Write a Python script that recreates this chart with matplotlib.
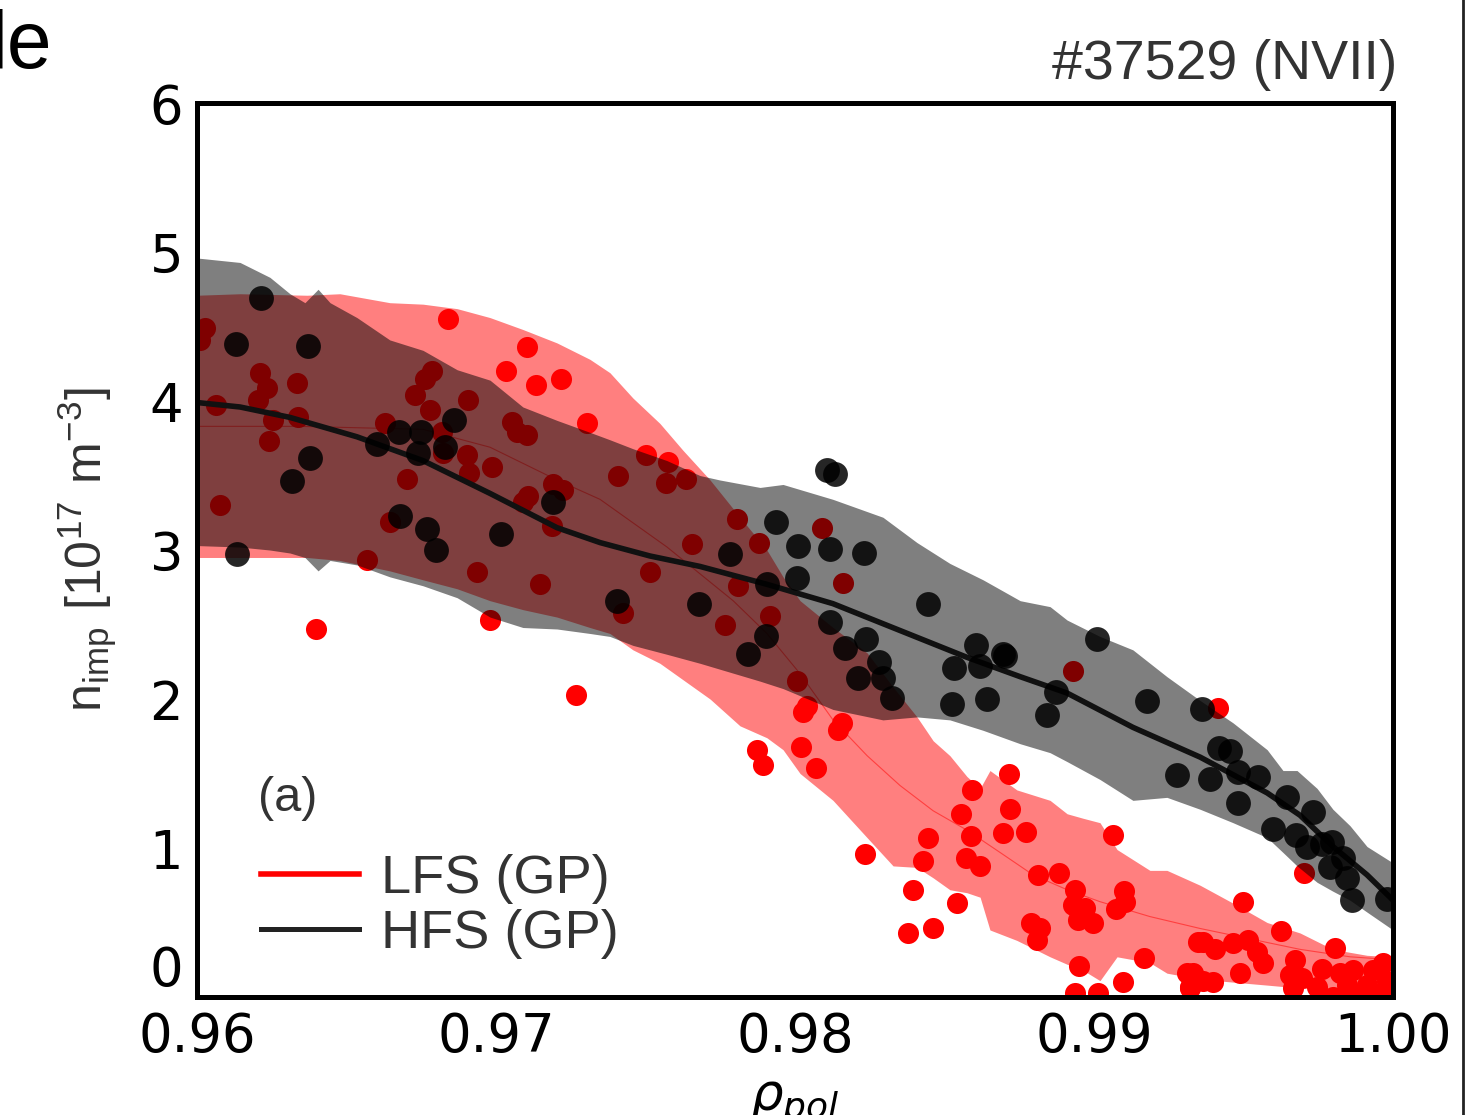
import matplotlib
matplotlib.use("Agg")
import matplotlib.pyplot as plt
from matplotlib.lines import Line2D

# ---- GP bands (rho_pol, lower, upper) ----
hfs_band_rho = [0.96000, 0.96144, 0.96244, 0.96311, 0.96361, 0.96405, 0.96445, 0.96535, 0.96645,
                0.96756, 0.96870, 0.96980, 0.97090, 0.97204, 0.97314, 0.97381, 0.97458, 0.97572,
                0.97682, 0.97749, 0.97883, 0.97960, 0.98127, 0.98294, 0.98408, 0.98518, 0.98629,
                0.98753, 0.98853, 0.98910, 0.99020, 0.99130, 0.99244, 0.99355, 0.99465, 0.99579,
                0.99632, 0.99679, 0.99746, 0.99799, 0.99856, 0.99913, 1.00000]
hfs_band_lo = [3.03, 3.02, 3.00, 2.98, 2.95, 2.86, 2.93, 2.90, 2.82,
               2.76, 2.68, 2.55, 2.48, 2.47, 2.44, 2.42, 2.36, 2.30,
               2.24, 2.20, 2.12, 2.07, 1.93, 1.86, 1.88, 1.86, 1.79,
               1.70, 1.64, 1.58, 1.46, 1.32, 1.34, 1.26, 1.17, 1.07,
               0.97, 0.88, 0.77, 0.71, 0.65, 0.57, 0.45]
hfs_band_hi = [4.96, 4.93, 4.83, 4.72, 4.66, 4.75, 4.66, 4.56, 4.41,
               4.34, 4.21, 4.14, 3.96, 3.87, 3.79, 3.74, 3.68, 3.60,
               3.50, 3.47, 3.42, 3.44, 3.34, 3.22, 3.05, 2.91, 2.80,
               2.66, 2.62, 2.53, 2.42, 2.33, 2.15, 1.99, 1.84, 1.66,
               1.52, 1.52, 1.40, 1.26, 1.15, 1.01, 0.90]

lfs_band_rho = [0.96000, 0.96144, 0.96368, 0.96478, 0.96645, 0.96756, 0.96870, 0.96980, 0.97090,
                0.97204, 0.97314, 0.97381, 0.97458, 0.97548, 0.97625, 0.97716, 0.97816, 0.97906,
                0.97960, 0.98017, 0.98127, 0.98241, 0.98328, 0.98408, 0.98462, 0.98518, 0.98575,
                0.98619, 0.98652, 0.98742, 0.98853, 0.98910, 0.98963, 0.99020, 0.99077, 0.99187,
                0.99244, 0.99355, 0.99465, 0.99579, 0.99689, 0.99799, 0.99913, 1.00000]
lfs_band_lo = [2.95, 2.95, 2.95, 2.93, 2.86, 2.80, 2.74, 2.66, 2.60,
               2.55, 2.48, 2.44, 2.33, 2.24, 2.13, 2.00, 1.82, 1.74,
               1.66, 1.50, 1.32, 1.07, 0.88, 0.87, 0.80, 0.72, 0.70,
               0.67, 0.45, 0.38, 0.27, 0.22, 0.18, 0.11, 0.27, 0.23,
               0.16, 0.12, 0.10, 0.08, 0.06, 0.05, 0.04, 0.04]
lfs_band_hi = [4.71, 4.72, 4.71, 4.72, 4.66, 4.65, 4.62, 4.56, 4.48,
               4.39, 4.28, 4.19, 4.02, 3.85, 3.67, 3.47, 3.22, 3.00,
               2.82, 2.66, 2.48, 2.31, 2.08, 1.88, 1.72, 1.62, 1.48,
               1.40, 1.52, 1.39, 1.32, 1.23, 1.20, 1.17, 0.99, 0.85,
               0.85, 0.75, 0.63, 0.50, 0.43, 0.32, 0.28, 0.27]

# ---- GP means ----
hfs_mean_rho = [0.96000, 0.96144, 0.96311, 0.96535, 0.96756, 0.96980, 0.97204, 0.97348, 0.97515,
                0.97682, 0.97906, 0.98127, 0.98351, 0.98575, 0.98753, 0.98910, 0.99130, 0.99355,
                0.99579, 0.99689, 0.99799, 0.99913, 1.00000]
hfs_mean_n = [3.99, 3.96, 3.89, 3.76, 3.60, 3.38, 3.15, 3.05, 2.96,
              2.89, 2.77, 2.64, 2.46, 2.28, 2.15, 2.04, 1.81, 1.61,
              1.37, 1.22, 1.01, 0.82, 0.65]

lfs_mean_rho = [0.96000, 0.96345, 0.96756, 0.96980, 0.97204, 0.97348, 0.97572, 0.97793, 0.97906,
                0.98017, 0.98127, 0.98241, 0.98351, 0.98462, 0.98575, 0.98686, 0.98796, 0.98910,
                0.99020, 0.99187, 0.99355, 0.99522, 0.99689, 0.99856, 1.00000]
lfs_mean_n = [3.83, 3.83, 3.81, 3.69, 3.47, 3.34, 3.02, 2.66, 2.44,
              2.17, 1.86, 1.62, 1.42, 1.25, 1.12, 0.97, 0.82, 0.72,
              0.64, 0.54, 0.46, 0.39, 0.32, 0.27, 0.25]

# ---- measured points ----
hfs_rho = [0.96214, 0.96130, 0.96371, 0.96134, 0.96378, 0.96318, 0.96602, 0.96676, 0.96749,
           0.96739, 0.96829, 0.96860, 0.96679, 0.96769, 0.96799, 0.97017, 0.97190, 0.97405,
           0.97679, 0.97783, 0.97903, 0.97843, 0.97906, 0.97936, 0.98010, 0.98007, 0.98117,
           0.98231, 0.98117, 0.98167, 0.98237, 0.98281, 0.98211, 0.98294, 0.98324, 0.98445,
           0.98532, 0.98605, 0.98619, 0.98696, 0.98525, 0.98642, 0.98107, 0.98134, 0.98702,
           0.99010, 0.98873, 0.98843, 0.99177, 0.99361, 0.99278, 0.99388, 0.99418, 0.99455,
           0.99482, 0.99548, 0.99482, 0.99645, 0.99599, 0.99732, 0.99676, 0.99712, 0.99763,
           0.99796, 0.99833, 0.99789, 0.99846, 0.99863, 0.99980]
hfs_n = [4.69, 4.38, 4.37, 2.97, 3.62, 3.46, 3.71, 3.79, 3.79,
         3.65, 3.69, 3.87, 3.23, 3.14, 3.00, 3.11, 3.32, 2.66,
         2.64, 2.97, 2.42, 2.30, 2.77, 3.19, 3.03, 2.81, 3.01,
         2.98, 2.52, 2.34, 2.40, 2.25, 2.14, 2.14, 2.01, 2.64,
         2.21, 2.36, 2.22, 2.30, 1.97, 2.00, 3.54, 3.51, 2.29,
         2.40, 2.05, 1.89, 1.99, 1.93, 1.49, 1.46, 1.67, 1.65,
         1.51, 1.48, 1.30, 1.34, 1.13, 1.24, 1.09, 1.01, 1.03,
         1.04, 0.93, 0.87, 0.80, 0.65, 0.66]

lfs_rho = [0.96027, 0.96010, 0.96064, 0.96211, 0.96234, 0.96204, 0.96334, 0.96254, 0.96338,
           0.96241, 0.96077, 0.96569, 0.96629, 0.96645, 0.96702, 0.96729, 0.96763, 0.96786,
           0.96779, 0.96819, 0.96823, 0.96906, 0.96903, 0.96910, 0.96987, 0.97054, 0.97070,
           0.97104, 0.97107, 0.97090, 0.97190, 0.97224, 0.97187, 0.96936, 0.97147, 0.96980,
           0.96839, 0.97104, 0.97033, 0.97134, 0.97217, 0.97304, 0.96398, 0.97268,
           0.97502, 0.97575, 0.97408, 0.97569, 0.97635, 0.97515, 0.97656, 0.97806, 0.97880,
           0.97809, 0.97425, 0.97766, 0.97916, 0.98090, 0.98160, 0.98007, 0.98040, 0.98027,
           0.98157, 0.98144, 0.97873, 0.97893, 0.98020, 0.98070, 0.98592, 0.98716, 0.98930,
           0.98234, 0.98445, 0.98428, 0.98395, 0.98542, 0.98378, 0.98462, 0.98555, 0.98719,
           0.98589, 0.98696, 0.98773, 0.98572, 0.98619, 0.99064, 0.98813, 0.98883, 0.98936,
           0.98930, 0.98970, 0.98946, 0.98997, 0.99100, 0.99104, 0.99074, 0.98789, 0.98819,
           0.98809, 0.98950, 0.99167, 0.99097, 0.98936, 0.99013, 0.99311, 0.99321, 0.99348,
           0.99498, 0.99625, 0.99806, 0.99415, 0.99702, 0.99365, 0.99405, 0.99465, 0.99515,
           0.99545, 0.99565, 0.99488, 0.99331, 0.99365, 0.99398, 0.99321, 0.99672, 0.99656,
           0.99696, 0.99763, 0.99823, 0.99866, 0.99933, 0.99967, 0.99980, 0.99913, 0.99746,
           0.99846, 0.99666, 0.99880, 0.99960, 0.99799]
lfs_n = [4.49, 4.41, 3.97, 4.19, 4.09, 4.01, 4.12, 3.87, 3.89,
         3.73, 3.30, 2.93, 3.85, 3.19, 3.48, 4.04, 4.15, 4.20,
         3.94, 3.79, 3.65, 4.01, 3.64, 3.52, 3.56, 3.86, 3.79,
         3.77, 3.36, 3.32, 3.44, 3.40, 3.16, 2.85, 2.77, 2.53,
         4.55, 4.36, 4.20, 4.11, 4.15, 3.85, 2.47, 2.03,
         3.64, 3.59, 3.50, 3.45, 3.48, 2.85, 3.04, 3.21, 3.05,
         2.76, 2.58, 2.50, 2.56, 3.15, 2.78, 2.12, 1.95, 1.91,
         1.84, 1.79, 1.66, 1.56, 1.68, 1.54, 1.39, 1.50, 2.19,
         0.96, 1.07, 0.91, 0.72, 0.63, 0.43, 0.46, 1.23, 1.26,
         1.08, 1.10, 1.11, 0.93, 0.88, 1.09, 0.82, 0.83, 0.72,
         0.62, 0.60, 0.52, 0.50, 0.71, 0.64, 0.59, 0.50, 0.46,
         0.38, 0.21, 0.26, 0.10, 0.03, 0.03, 0.16, 0.07, 0.37,
         0.64, 0.44, 0.33, 1.94, 0.83, 0.37, 0.32, 0.36, 0.38,
         0.30, 0.23, 0.16, 0.16, 0.11, 0.10, 0.06, 0.25, 0.15,
         0.13, 0.19, 0.16, 0.18, 0.18, 0.23, 0.11, 0.08, 0.07,
         0.08, 0.06, 0.01, 0.02, 0.00]

fig = plt.figure(figsize=(14.81, 11.15), dpi=100)
ax = fig.add_axes([0.1330, 0.1058, 0.8076, 0.8018])

ax.fill_between(lfs_band_rho, lfs_band_lo, lfs_band_hi, color='red', alpha=0.5, lw=0, zorder=1)
ax.scatter(lfs_rho, lfs_n, s=230, color='red', lw=0, zorder=2)
ax.plot(lfs_mean_rho, lfs_mean_n, color='red', lw=0.8, alpha=0.5, zorder=2.5)
ax.fill_between(hfs_band_rho, hfs_band_lo, hfs_band_hi, color='black', alpha=0.5, lw=0, zorder=3)
ax.plot(hfs_mean_rho, hfs_mean_n, color='#111111', lw=4, zorder=4)
ax.scatter(hfs_rho, hfs_n, s=320, color='black', alpha=0.85, lw=0, zorder=5)

ax.set_xlim(0.96, 1.0)
ax.set_ylim(0, 6)
ax.set_xticks([0.96, 0.97, 0.98, 0.99, 1.00])
ax.set_xticklabels(['0.96', '0.97', '0.98', '0.99', '1.00'])
ax.set_yticks(range(7))
ylabels = ax.set_yticklabels([str(i) for i in range(7)])
ylabels[0].set_verticalalignment('bottom')
ax.tick_params(length=0, labelsize=38, pad=10)
for sp in ax.spines.values():
    sp.set_linewidth(3.6)
    sp.set_zorder(10)

ax.set_xlabel(r'$\rho_{pol}$', fontsize=37, labelpad=10)
ax.set_ylabel(r'$\mathregular{n_{imp}\ [10^{17}\ m^{-3}]}$', fontsize=36,
              family='Liberation Sans', color='#333333', labelpad=22)
ax.text(1.004, 1.0 + 12 / 894, '#37529 (NVII)', transform=ax.transAxes, ha='right',
        va='bottom', fontsize=40, family='Liberation Sans', color='#333333')

handles = [Line2D([], [], color='red', lw=4), Line2D([], [], color='#222222', lw=3.6)]
leg = ax.legend(handles, ['LFS (GP)', 'HFS (GP)'], loc='lower left',
                bbox_to_anchor=(0.022, 0.0), frameon=False,
                prop={'family': 'Liberation Sans', 'size': 39}, handlelength=1.8,
                handletextpad=0.42, labelspacing=0.1, borderaxespad=0.3)
for t in leg.get_texts():
    t.set_color('#333333')
ax.text(0.051, 0.2226, '(a)', transform=ax.transAxes, ha='left', va='center',
        fontsize=35, family='Liberation Sans', color='#333333')

fig.text(52 / 1481, 1 - 68 / 1115, 'le', ha='right', va='baseline', fontsize=58,
         family='Liberation Sans', color='black')
fig.add_artist(Line2D([1463 / 1481] * 2, [0, 1], transform=fig.transFigure,
                      color='#222222', lw=2))

fig.savefig('out.png', dpi=100)
